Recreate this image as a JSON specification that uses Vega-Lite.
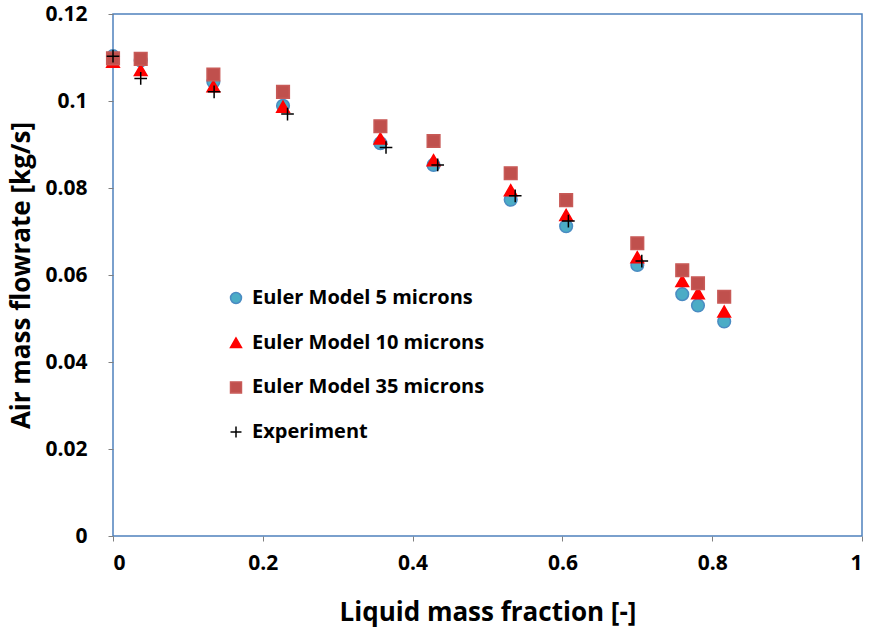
{
  "$schema": "https://vega.github.io/schema/vega-lite/v6.json",
  "width": 749,
  "height": 522,
  "autosize": "none",
  "padding": {"left": 113, "top": 14, "right": 8, "bottom": 95},
  "background": "white",
  "config": {
    "font": "Open Sans",
    "view": {"stroke": "#4F81BD", "strokeWidth": 1.5},
    "axis": {
      "grid": false,
      "domain": false,
      "tickColor": "#808080",
      "tickSize": 5,
      "labelFont": "Open Sans",
      "labelFontWeight": "bold",
      "labelFontSize": 21,
      "labelColor": "#000000",
      "titleFont": "Open Sans",
      "titleFontWeight": "bold",
      "titleFontSize": 26,
      "titleColor": "#000000"
    }
  },
  "data": {
    "values": [
      {"x": 0.0, "y": 0.1103, "series": "Euler Model 5 microns"},
      {"x": 0.037, "y": 0.1093, "series": "Euler Model 5 microns"},
      {"x": 0.134, "y": 0.1044, "series": "Euler Model 5 microns"},
      {"x": 0.227, "y": 0.0989, "series": "Euler Model 5 microns"},
      {"x": 0.357, "y": 0.0903, "series": "Euler Model 5 microns"},
      {"x": 0.428, "y": 0.0853, "series": "Euler Model 5 microns"},
      {"x": 0.531, "y": 0.0773, "series": "Euler Model 5 microns"},
      {"x": 0.605, "y": 0.0712, "series": "Euler Model 5 microns"},
      {"x": 0.700, "y": 0.0623, "series": "Euler Model 5 microns"},
      {"x": 0.760, "y": 0.0556, "series": "Euler Model 5 microns"},
      {"x": 0.781, "y": 0.0530, "series": "Euler Model 5 microns"},
      {"x": 0.816, "y": 0.0493, "series": "Euler Model 5 microns"},
      {"x": 0.0, "y": 0.1090, "series": "Euler Model 10 microns"},
      {"x": 0.037, "y": 0.1071, "series": "Euler Model 10 microns"},
      {"x": 0.134, "y": 0.1034, "series": "Euler Model 10 microns"},
      {"x": 0.227, "y": 0.0987, "series": "Euler Model 10 microns"},
      {"x": 0.357, "y": 0.0914, "series": "Euler Model 10 microns"},
      {"x": 0.428, "y": 0.0864, "series": "Euler Model 10 microns"},
      {"x": 0.531, "y": 0.0795, "series": "Euler Model 10 microns"},
      {"x": 0.605, "y": 0.0738, "series": "Euler Model 10 microns"},
      {"x": 0.700, "y": 0.0641, "series": "Euler Model 10 microns"},
      {"x": 0.760, "y": 0.0586, "series": "Euler Model 10 microns"},
      {"x": 0.781, "y": 0.0558, "series": "Euler Model 10 microns"},
      {"x": 0.816, "y": 0.0516, "series": "Euler Model 10 microns"},
      {"x": 0.0, "y": 0.1098, "series": "Euler Model 35 microns"},
      {"x": 0.037, "y": 0.1097, "series": "Euler Model 35 microns"},
      {"x": 0.134, "y": 0.1061, "series": "Euler Model 35 microns"},
      {"x": 0.227, "y": 0.1021, "series": "Euler Model 35 microns"},
      {"x": 0.357, "y": 0.0942, "series": "Euler Model 35 microns"},
      {"x": 0.428, "y": 0.0908, "series": "Euler Model 35 microns"},
      {"x": 0.531, "y": 0.0834, "series": "Euler Model 35 microns"},
      {"x": 0.605, "y": 0.0772, "series": "Euler Model 35 microns"},
      {"x": 0.700, "y": 0.0673, "series": "Euler Model 35 microns"},
      {"x": 0.760, "y": 0.0611, "series": "Euler Model 35 microns"},
      {"x": 0.781, "y": 0.0581, "series": "Euler Model 35 microns"},
      {"x": 0.816, "y": 0.0550, "series": "Euler Model 35 microns"},
      {"x": 0.0, "y": 0.1103, "series": "Experiment"},
      {"x": 0.037, "y": 0.1052, "series": "Experiment"},
      {"x": 0.135, "y": 0.1021, "series": "Experiment"},
      {"x": 0.233, "y": 0.0970, "series": "Experiment"},
      {"x": 0.3645, "y": 0.0893, "series": "Experiment"},
      {"x": 0.4335, "y": 0.0853, "series": "Experiment"},
      {"x": 0.537, "y": 0.0782, "series": "Experiment"},
      {"x": 0.608, "y": 0.0724, "series": "Experiment"},
      {"x": 0.706, "y": 0.0632, "series": "Experiment"}
    ]
  },
  "mark": {"type": "point", "filled": true, "size": 160, "strokeWidth": 1.5, "opacity": 1},
  "encoding": {
    "x": {
      "field": "x", "type": "quantitative",
      "scale": {"domain": [0, 1], "nice": false, "zero": true},
      "axis": {"values": [0, 0.2, 0.4, 0.6, 0.8, 1], "format": ".2~g", "labelPadding": 11, "titlePadding": 26, "title": "Liquid mass fraction [-]"}
    },
    "y": {
      "field": "y", "type": "quantitative",
      "scale": {"domain": [0, 0.12], "nice": false},
      "axis": {"values": [0, 0.02, 0.04, 0.06, 0.08, 0.1, 0.12], "format": ".2~g", "labelPadding": 21, "titlePadding": 10, "title": "Air mass flowrate [kg/s]"}
    },
    "shape": {
      "field": "series", "type": "nominal",
      "scale": {
        "domain": ["Euler Model 5 microns", "Euler Model 10 microns", "Euler Model 35 microns", "Experiment"],
        "range": ["circle", "triangle-up", "square", "M-1,0H1M0,-1V1"]
      },
      "legend": {
        "title": null,
        "orient": "none",
        "legendX": 113,
        "legendY": 274,
        "labelFont": "Open Sans",
        "labelFontWeight": "bold",
        "labelFontSize": 20,
        "labelColor": "#000000",
        "labelOffset": 6,
        "labelLimit": 400,
        "rowPadding": 24.7,
        "symbolSize": 120,
        "symbolStrokeWidth": 1.5,
        "padding": 0
      }
    },
    "fill": {
      "field": "series", "type": "nominal",
      "scale": {
        "domain": ["Euler Model 5 microns", "Euler Model 10 microns", "Euler Model 35 microns", "Experiment"],
        "range": ["#4BACC6", "#FF0000", "#C0504D", "transparent"]
      },
      "legend": null
    },
    "stroke": {
      "field": "series", "type": "nominal",
      "scale": {
        "domain": ["Euler Model 5 microns", "Euler Model 10 microns", "Euler Model 35 microns", "Experiment"],
        "range": ["#4A8BC2", "#FF0000", "#C85A57", "#000000"]
      },
      "legend": null
    }
  }
}
